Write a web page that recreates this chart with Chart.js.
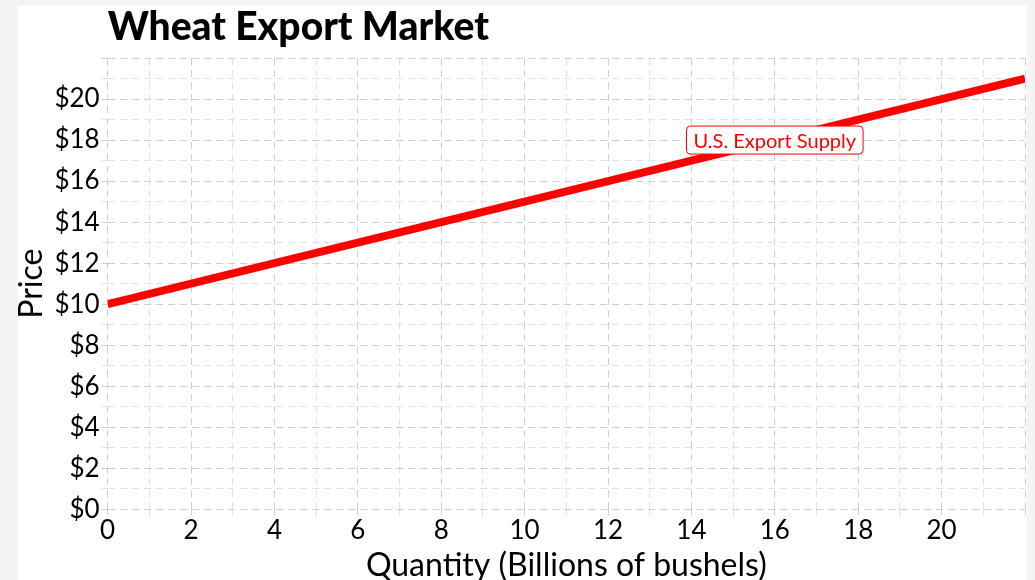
<!DOCTYPE html>
<html>
<head>
<meta charset="utf-8">
<script src="https://cdn.jsdelivr.net/npm/chart.js@4.4.1/dist/chart.umd.min.js"></script>
<style>
  html, body { margin: 0; padding: 0; background: #f4f4f4; overflow: hidden; }
  #wrap { position: absolute; left: 0; top: 0; width: 1035px; height: 580px; overflow: hidden; }
</style>
</head>
<body>
<div id="wrap"><canvas id="chart" width="1035" height="585"></canvas></div>
<script>
// supply curve: quantity (billions of bushels) vs price
const quantity = [0, 22];
const price = [10, 21];
const curveName = 'U.S. Export Supply';
const curveLabelAt = { x: 16, y: 18 };

const xRange = [0, 22];
const yRange = [0, 22];

const FONT = 'Lato, "Open Sans", sans-serif';
const RED = '#ff0000';

// white panel on a light grey page + bold title
const panelPlugin = {
  id: 'panel',
  beforeDraw(chart) {
    const ctx = chart.ctx;
    ctx.save();
    ctx.fillStyle = '#f4f4f4';
    ctx.fillRect(0, 0, chart.width, chart.height);
    ctx.fillStyle = '#ffffff';
    ctx.fillRect(18, 6, 1009, chart.height - 6);
    ctx.restore();
  },
  afterDraw(chart) {
    const ctx = chart.ctx;
    ctx.save();
    ctx.fillStyle = '#000';
    ctx.font = '900 39px ' + FONT;
    ctx.textBaseline = 'alphabetic';
    ctx.fillText('Wheat Export Market', chart.chartArea.left, 40);
    ctx.restore();
  }
};

// boxed label sitting on the curve
const curveLabelPlugin = {
  id: 'curveLabel',
  afterDatasetsDraw(chart) {
    const ctx = chart.ctx;
    const px = chart.scales.x.getPixelForValue(curveLabelAt.x);
    const py = chart.scales.y.getPixelForValue(curveLabelAt.y);
    ctx.save();
    ctx.font = '20px ' + FONT;
    const w = ctx.measureText(curveName).width + 14;
    const h = 28;
    ctx.beginPath();
    ctx.roundRect(px - w / 2, py - h / 2, w, h, 4);
    ctx.fillStyle = '#fff';
    ctx.fill();
    ctx.lineWidth = 1;
    ctx.strokeStyle = RED;
    ctx.stroke();
    ctx.fillStyle = RED;
    ctx.textAlign = 'center';
    ctx.textBaseline = 'middle';
    ctx.fillText(curveName, px, py + 1);
    ctx.restore();
  }
};

const gridColor = (c) => (c.tick && c.tick.value % 2 === 0) ? '#cfcfcf' : '#e2e2e2';
const evenLabel = (v) => (v % 2 === 0 && v < 22) ? v : '';

new Chart(document.getElementById('chart'), {
  type: 'scatter',
  data: {
    datasets: [{
      label: curveName,
      data: quantity.map((q, i) => ({ x: q, y: price[i] })),
      showLine: true,
      borderColor: RED,
      borderWidth: 8,
      pointRadius: 0,
      borderCapStyle: 'butt'
    }]
  },
  options: {
    responsive: false,
    animation: false,
    layout: { padding: { top: 58, left: 12, right: 10, bottom: 0 } },
    plugins: {
      legend: { display: false },
      tooltip: { enabled: false }
    },
    scales: {
      x: {
        type: 'linear',
        min: xRange[0],
        max: xRange[1],
        border: { display: false, dash: [7, 5] },
        grid: { color: gridColor, tickLength: 6, drawTicks: true },
        ticks: {
          stepSize: 1,
          autoSkip: false,
          maxRotation: 0,
          padding: 0,
          color: '#000',
          font: { family: FONT, size: 26 },
          callback: evenLabel
        },
        title: {
          display: true,
          text: 'Quantity (Billions of bushels)',
          color: '#000',
          font: { family: FONT, size: 32 },
          padding: { top: 0, bottom: 0 }
        }
      },
      y: {
        type: 'linear',
        min: yRange[0],
        max: yRange[1],
        border: { display: false, dash: [7, 5] },
        grid: { color: gridColor, tickLength: 6 },
        ticks: {
          stepSize: 1,
          autoSkip: false,
          padding: 2,
          color: '#000',
          font: { family: FONT, size: 26 },
          callback: (v) => evenLabel(v) === '' ? '' : '$' + v
        },
        title: {
          display: true,
          text: 'Price',
          color: '#000',
          font: { family: FONT, size: 32 },
          padding: { top: 0, bottom: 2 }
        }
      }
    }
  },
  plugins: [panelPlugin, curveLabelPlugin]
});
</script>
</body>
</html>
